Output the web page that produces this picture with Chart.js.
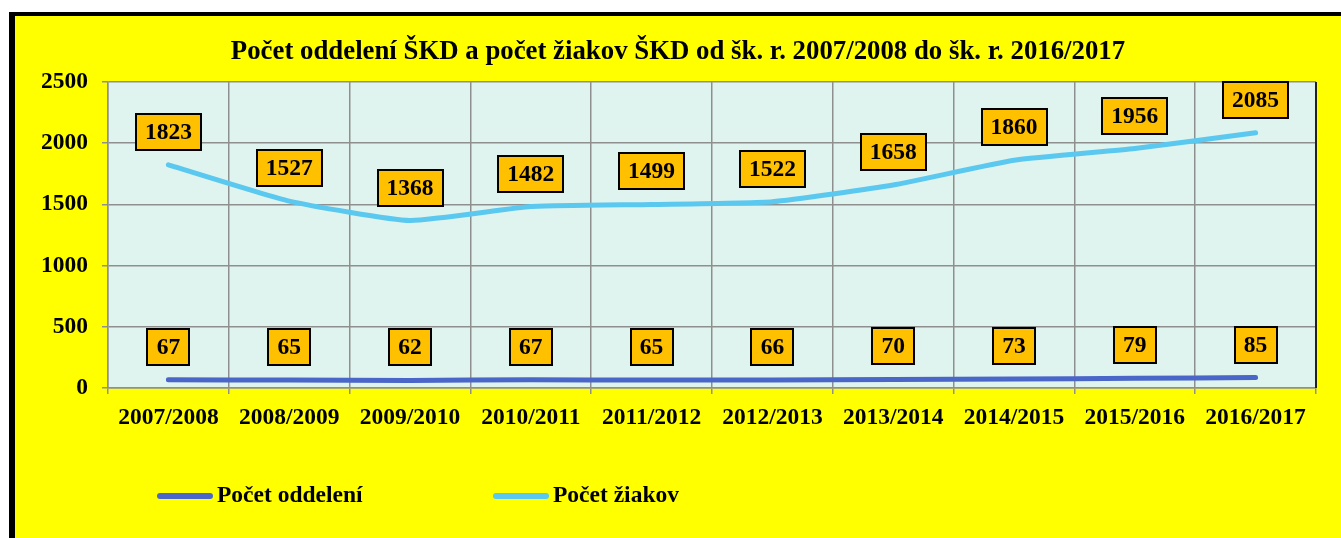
<!DOCTYPE html>
<html>
<head>
<meta charset="utf-8">
<script src="https://cdn.jsdelivr.net/npm/chart.js@4"></script>
<style>
  html, body { margin: 0; padding: 0; background: #fff; overflow: hidden; }
  #frame {
    position: absolute; left: 9px; top: 12px; width: 1400px; height: 600px;
    border-left: 6px solid #000; border-top: 4px solid #000; background: #ffff00;
  }
  #chart { position: absolute; left: 0; top: 0; }
</style>
</head>
<body>
<div id="frame"><canvas id="chart" width="1326" height="522"></canvas></div>
<script>
// data
const schoolYears = ['2007/2008', '2008/2009', '2009/2010', '2010/2011', '2011/2012',
                     '2012/2013', '2013/2014', '2014/2015', '2015/2016', '2016/2017'];
const classCount = [67, 65, 62, 67, 65, 66, 70, 73, 79, 85];
const pupilCount = [1823, 1527, 1368, 1482, 1499, 1522, 1658, 1860, 1956, 2085];
const yMin = 0, yMax = 2500, yStep = 500;

const FONT = "'Times New Roman', 'Liberation Serif', serif";
const GRID = '#8f8f8f';

// mint plot area + dark right edge
const plotBg = {
  id: 'plotBg',
  beforeDraw(chart) {
    const {ctx, chartArea: a} = chart;
    ctx.save();
    ctx.fillStyle = '#dff4ef';
    ctx.fillRect(a.left, a.top, a.right - a.left, a.bottom - a.top);
    ctx.restore();
  },
  beforeDatasetsDraw(chart) {
    const {ctx, chartArea: a} = chart;
    ctx.save();
    ctx.strokeStyle = '#222';
    ctx.lineWidth = 2;
    ctx.beginPath();
    ctx.moveTo(a.right, a.top);
    ctx.lineTo(a.right, a.bottom);
    ctx.stroke();
    ctx.restore();
  }
};

// orange value boxes above every point
const valueBoxes = {
  id: 'valueBoxes',
  afterDatasetsDraw(chart) {
    const ctx = chart.ctx;
    ctx.save();
    ctx.font = 'bold 23.5px ' + FONT;
    ctx.textAlign = 'center';
    ctx.textBaseline = 'middle';
    chart.data.datasets.forEach((ds, i) => {
      chart.getDatasetMeta(i).data.forEach((pt, j) => {
        const txt = String(ds.data[j]);
        const w = Math.round(ctx.measureText(txt).width + 18);
        const h = 36;
        const x = Math.round(pt.x - w / 2), y = Math.round(pt.y - 33 - h / 2);
        ctx.fillStyle = '#ffc000';
        ctx.fillRect(x, y, w, h);
        ctx.lineWidth = 2;
        ctx.strokeStyle = '#000';
        ctx.strokeRect(x, y, w, h);
        ctx.fillStyle = '#000';
        ctx.fillText(txt, pt.x, y + h / 2 + 1);
      });
    });
    ctx.restore();
  }
};

// legend placed like the original (left part of the bottom band)
const legendSpots = [142, 478];
const lineLegend = {
  id: 'lineLegend',
  afterDraw(chart) {
    const ctx = chart.ctx;
    const y = 480;
    ctx.save();
    ctx.font = 'bold 23.5px ' + FONT;
    ctx.textBaseline = 'middle';
    ctx.textAlign = 'left';
    chart.data.datasets.forEach((ds, i) => {
      const x = legendSpots[i];
      ctx.strokeStyle = ds.borderColor;
      ctx.lineWidth = 6;
      ctx.lineCap = 'round';
      ctx.beginPath();
      ctx.moveTo(x + 3, y);
      ctx.lineTo(x + 53, y);
      ctx.stroke();
      ctx.fillStyle = '#000';
      ctx.fillText(ds.label, x + 60, y);
    });
    ctx.restore();
  }
};

new Chart(document.getElementById('chart'), {
  type: 'line',
  data: {
    labels: schoolYears,
    datasets: [
      {
        label: 'Počet oddelení',
        data: classCount,
        borderColor: '#4a66c8',
        backgroundColor: '#4a66c8',
        borderWidth: 5,
        borderCapStyle: 'round',
        pointRadius: 0,
        tension: 0.15
      },
      {
        label: 'Počet žiakov',
        data: pupilCount,
        borderColor: '#5bc8f0',
        backgroundColor: '#5bc8f0',
        borderWidth: 5,
        borderCapStyle: 'round',
        pointRadius: 0,
        tension: 0.15
      }
    ]
  },
  options: {
    responsive: false,
    animation: false,
    events: [],
    layout: { padding: 0 },
    plugins: {
      legend: { display: false },
      tooltip: { enabled: false },
      title: {
        display: true,
        text: 'Počet oddelení ŠKD a počet žiakov ŠKD od šk. r. 2007/2008 do šk. r. 2016/2017',
        color: '#000',
        font: { family: FONT, size: 26.8, weight: 'bold', lineHeight: 1.2 },
        padding: { top: 20.4, bottom: 13.4 }
      }
    },
    scales: {
      x: {
        offset: true,
        grid: { display: true, offset: true, color: GRID, lineWidth: 1.5, tickLength: 6 },
        border: { color: GRID, width: 1.5 },
        ticks: {
          color: '#000',
          padding: 10,
          maxRotation: 0,
          autoSkip: false,
          font: { family: FONT, size: 23.5, weight: 'bold' }
        },
        afterFit(scale) { scale.height = 150; }
      },
      y: {
        min: yMin,
        max: yMax,
        grid: { color: GRID, lineWidth: 1.5, tickLength: 6 },
        border: { color: GRID, width: 1.5 },
        ticks: {
          stepSize: yStep,
          color: '#000',
          padding: 14,
          font: { family: FONT, size: 23.5, weight: 'bold' },
          callback: (v) => String(v)
        },
        afterFit(scale) { scale.width = 93; }
      },
      // empty strip on the right so the plot ends where the original does
      yRight: {
        position: 'right',
        grid: { display: false },
        border: { display: false },
        ticks: { display: false },
        afterFit(scale) { scale.width = 25; }
      }
    }
  },
  plugins: [plotBg, valueBoxes, lineLegend]
});
</script>
</body>
</html>
